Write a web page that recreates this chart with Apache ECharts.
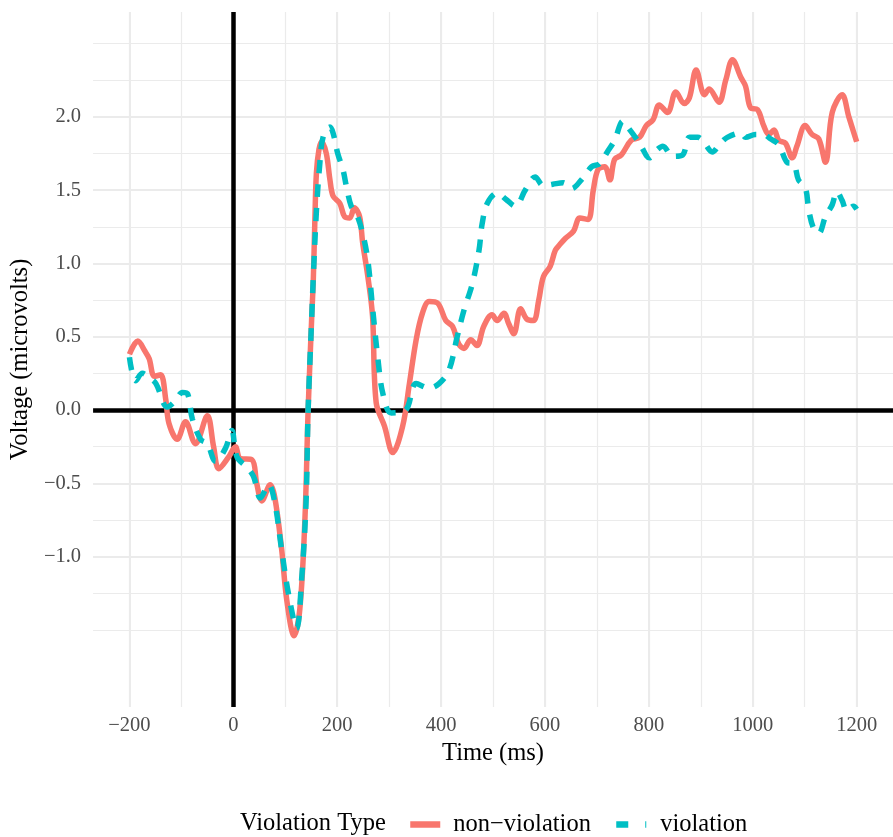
<!DOCTYPE html>
<html>
<head>
<meta charset="utf-8">
<script src="https://cdn.jsdelivr.net/npm/echarts@6/dist/echarts.min.js"></script>
<style>
  html, body { margin: 0; padding: 0; background: #fff; }
  #main { width: 893px; height: 837px; }
</style>
</head>
<body>
<div id="main"></div>
<script>
// ERP grand averages: [time (ms), voltage (microvolts)]
var nonViolation = [
  [-200,0.38],[-184,0.47],[-170,0.40],[-162,0.35],[-152,0.23],[-140,0.24],[-130,0.07],[-124,-0.09],
  [-108,-0.20],[-92,-0.08],[-73,-0.23],[-50,-0.04],[-38,-0.25],[-28,-0.40],[-9,-0.32],[4,-0.25],
  [13,-0.33],[36,-0.34],[45,-0.50],[55,-0.62],[71,-0.51],[80,-0.60],[93,-0.95],[103,-1.30],
  [117,-1.54],[128,-1.36],[138,-0.73],[144,0.00],[151,0.64],[154,0.89],[157,1.30],[160,1.62],
  [165,1.78],[170,1.83],[179,1.75],[186,1.57],[192,1.46],[205,1.41],[214,1.32],[224,1.31],
  [233,1.38],[243,1.32],[249,1.14],[259,0.91],[268,0.64],[275,0.05],[291,-0.11],[307,-0.29],
  [326,-0.11],[339,0.18],[352,0.48],[364,0.66],[377,0.74],[393,0.73],[409,0.61],[422,0.57],
  [434,0.45],[444,0.42],[457,0.48],[469,0.44],[482,0.57],[498,0.65],[508,0.61],[521,0.66],
  [530,0.59],[540,0.52],[553,0.69],[565,0.62],[578,0.61],[588,0.75],[597,0.91],[610,0.98],
  [620,1.09],[629,1.13],[639,1.17],[655,1.22],[667,1.31],[683,1.30],[693,1.50],[702,1.64],
  [715,1.66],[725,1.57],[734,1.71],[747,1.74],[766,1.84],[782,1.86],[795,1.94],[808,1.98],
  [820,2.08],[836,2.03],[852,2.17],[868,2.09],[878,2.13],[891,2.32],[907,2.15],[916,2.19],
  [935,2.10],[948,2.25],[961,2.39],[977,2.27],[986,2.21],[996,2.06],[1009,2.05],[1021,1.94],
  [1031,1.88],[1041,1.91],[1050,1.84],[1063,1.82],[1076,1.72],[1085,1.80],[1101,1.94],[1114,1.88],
  [1127,1.85],[1140,1.69],[1153,2.03],[1172,2.15],[1185,2.00],[1200,1.83]
];
var violation = [
  [-200,0.36],[-188,0.20],[-175,0.25],[-162,0.22],[-149,0.18],[-127,0.02],[-112,0.06],[-98,0.12],
  [-88,0.11],[-79,-0.06],[-63,-0.20],[-50,-0.23],[-34,-0.35],[-15,-0.26],[-3,-0.14],[7,-0.32],
  [26,-0.39],[39,-0.455],[52,-0.60],[68,-0.51],[80,-0.635],[93,-0.955],[106,-1.25],[122,-1.49],
  [131,-1.18],[140,-0.63],[144,0.00],[151,0.64],[154,0.91],[160,1.36],[166,1.66],[173,1.865],
  [186,1.93],[192,1.89],[201,1.75],[211,1.64],[218,1.52],[227,1.39],[237,1.34],[249,1.205],
  [259,1.02],[268,0.70],[278,0.36],[288,0.11],[304,-0.02],[332,0.00],[352,0.18],[377,0.15],
  [396,0.18],[415,0.27],[431,0.50],[444,0.68],[460,0.86],[473,1.09],[479,1.27],[489,1.41],
  [508,1.48],[524,1.44],[543,1.39],[562,1.50],[581,1.59],[597,1.53],[615,1.54],[635,1.55],
  [651,1.51],[670,1.57],[690,1.66],[705,1.68],[720,1.76],[734,1.84],[750,1.97],[757,1.94],
  [776,1.85],[785,1.80],[801,1.72],[814,1.77],[827,1.80],[846,1.73],[865,1.74],[878,1.86],
  [894,1.86],[907,1.82],[922,1.76],[938,1.82],[951,1.86],[977,1.89],[986,1.86],[1005,1.88],
  [1021,1.88],[1034,1.85],[1050,1.81],[1066,1.69],[1079,1.68],[1088,1.57],[1101,1.52],[1108,1.36],
  [1117,1.24],[1127,1.205],[1140,1.32],[1153,1.40],[1162,1.49],[1172,1.43],[1181,1.36],[1194,1.39],
  [1200,1.37]
];

var xMajorTicks = [-200, 0, 200, 400, 600, 800, 1000, 1200];
var xMinorTicks = [-200, -100, 0, 100, 200, 300, 400, 500, 600, 700, 800, 900, 1000, 1100, 1200];
var yMajorTicks = [-1, -0.5, 0, 0.5, 1, 1.5, 2];
var yMinorTicks = [-1.5, -1.25, -1, -0.75, -0.5, -0.25, 0, 0.25, 0.5, 0.75, 1, 1.25, 1.5, 1.75, 2, 2.25, 2.5];

var serif = 'Liberation Serif';
var xMin = -270, xMax = 1270, yMin = -2.026, yMax = 2.715;
var gridColor = '#ebebeb';

function minus(s) { return String(s).replace('-', '\u2212'); }

var chart = echarts.init(document.getElementById('main'));
var option = {
  animation: false,
  backgroundColor: '#fff',
  grid: { left: 93, right: 0, top: 12, bottom: 130 },
  xAxis: [{
    type: 'value', min: xMin, max: xMax,
    name: 'Time (ms)', nameLocation: 'middle', nameGap: 33,
    nameTextStyle: { fontFamily: serif, fontSize: 24.5, color: '#000' },
    axisLine: { show: false },
    axisTick: { show: false, customValues: xMajorTicks },
    axisLabel: { customValues: xMajorTicks, formatter: minus, margin: 8,
      fontFamily: serif, fontSize: 20.5, color: '#4d4d4d' },
    splitLine: { show: true, lineStyle: { color: gridColor, width: 2 } }
  }, {
    type: 'value', min: xMin, max: xMax, position: 'top',
    axisLine: { show: false },
    axisTick: { show: false, customValues: xMinorTicks },
    axisLabel: { show: false },
    splitLine: { show: true, lineStyle: { color: gridColor, width: 1.2 } }
  }],
  yAxis: [{
    type: 'value', min: yMin, max: yMax,
    name: 'Voltage (microvolts)', nameLocation: 'middle', nameGap: 54,
    nameTextStyle: { fontFamily: serif, fontSize: 24.5, color: '#000' },
    axisLine: { show: false },
    axisTick: { show: false, customValues: yMajorTicks },
    axisLabel: { customValues: yMajorTicks, margin: 12,
      formatter: function (v) { return minus(v.toFixed(1)); },
      fontFamily: serif, fontSize: 20.5, color: '#4d4d4d' },
    splitLine: { show: true, lineStyle: { color: gridColor, width: 2 } }
  }, {
    type: 'value', min: yMin, max: yMax, position: 'right',
    axisLine: { show: false },
    axisTick: { show: false, customValues: yMinorTicks },
    axisLabel: { show: false },
    splitLine: { show: true, lineStyle: { color: gridColor, width: 1.2 } }
  }],
  graphic: [{
    type: 'text', left: 240, top: 811,
    style: { text: 'Violation Type', font: '24.5px "Liberation Serif"', fill: '#000' }
  }],
  legend: [{
    data: ['non\u2212violation'], left: 407, top: 812, padding: 0,
    itemWidth: 30, itemHeight: 14,
    itemStyle: { opacity: 0 },
    lineStyle: { width: 6.5 },
    textStyle: { fontFamily: serif, fontSize: 24.5, color: '#000', padding: [0, 0, 0, 8] }
  }, {
    data: ['violation'], left: 613, top: 812, padding: 0,
    itemWidth: 30, itemHeight: 14,
    itemStyle: { opacity: 0 },
    lineStyle: { width: 6.5, type: [12, 17] },
    textStyle: { fontFamily: serif, fontSize: 24.5, color: '#000', padding: [0, 0, 0, 9] }
  }],
  series: [{
    name: 'non\u2212violation', type: 'line',
    data: nonViolation, symbol: 'none', smooth: 0.35,
    lineStyle: { color: '#F8766D', width: 5.5 },
    itemStyle: { color: '#F8766D' },
    markLine: {
      silent: true, symbol: ['none', 'none'], z: 1,
      label: { show: false },
      lineStyle: { color: '#000', width: 4.5, type: 'solid' },
      data: [{ xAxis: 0 }, { yAxis: 0 }]
    }
  }, {
    name: 'violation', type: 'line',
    data: violation, symbol: 'none', smooth: 0.35,
    lineStyle: { color: '#00BFC4', width: 5.5, type: [13, 11] },
    itemStyle: { color: '#00BFC4' }
  }]
};
chart.setOption(option);
</script>
</body>
</html>
